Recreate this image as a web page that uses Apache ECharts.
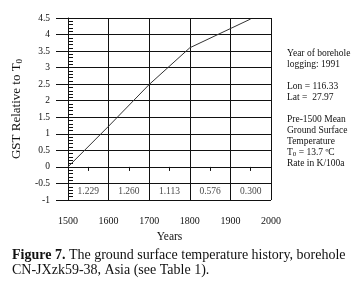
<!DOCTYPE html>
<html>
<head>
<meta charset="utf-8">
<script src="https://cdn.jsdelivr.net/npm/echarts@6/dist/echarts.min.js"></script>
<style>
  html, body { margin: 0; padding: 0; background: #fff; }
  #main { width: 364px; height: 287px; }
</style>
</head>
<body>
<div id="main"></div>
<script>
// ground surface temperature history
var years = [1500, 1600, 1700, 1800, 1900, 1950]
var gst = [0, 1.23, 2.49, 3.6, 4.18, 4.47]

// rate in K/100a for each century
var periodStart = [1500, 1600, 1700, 1800, 1900]
var rates = ['1.229', '1.260', '1.113', '0.576', '0.300']
var rateRow = -0.75

var infoLines = ['Year of borehole', 'logging: 1991', '', 'Lon = 116.33', 'Lat =  27.97', '',
    'Pre-1500 Mean', 'Ground Surface', 'Temperature', 'T{sub|0} = 13.7 ºC', 'Rate in K/100a']

var serif = 'Liberation Serif'
var ink = '#111'

var chart = echarts.init(document.getElementById('main'))

var lineData = years.map(function (y, i) { return [y, gst[i]] })
var rateData = periodStart.map(function (s, i) { return [s + 50, rateRow, rates[i]] })

var info = []
infoLines.forEach(function (t, i) {
    if (!t) return
    info.push({
        type: 'text', left: 287, top: 48 + i * 11,
        style: {
            text: t, fill: ink, font: '9.5px "' + serif + '"',
            rich: { sub: { fontSize: 7, fontFamily: serif, verticalAlign: 'bottom', padding: [4, 0, 0, 0] } }
        }
    })
})

chart.setOption({
    animation: false,
    backgroundColor: '#fff',
    grid: { left: 68, right: 93, top: 18, bottom: 87 },
    xAxis: {
        type: 'value', min: 1500, max: 2000, interval: 100,
        name: 'Years', nameLocation: 'middle', nameGap: 31,
        nameTextStyle: { fontFamily: serif, fontSize: 11.5, color: ink },
        axisLine: { lineStyle: { color: ink, width: 1 } },
        axisTick: { length: 7, lineStyle: { color: ink } },
        minorTick: { show: true, splitNumber: 2, length: 4, lineStyle: { color: ink } },
        axisLabel: { fontFamily: serif, fontSize: 10, color: ink, margin: 16, formatter: function (v) { return String(v) } },
        splitLine: { show: true, lineStyle: { color: ink, width: 1 } }
    },
    yAxis: [{
        type: 'value', min: -1, max: 4.5, interval: 0.5,
        name: 'GST Relative to T{sub|0}', nameLocation: 'middle', nameGap: 34,
        nameTextStyle: {
            fontFamily: serif, fontSize: 13, color: ink,
            rich: { sub: { fontFamily: serif, fontSize: 9, color: ink, verticalAlign: 'bottom', padding: [6, 0, 0, 0] } }
        },
        axisLine: { show: true, lineStyle: { color: ink, width: 1 } },
        axisTick: { show: true, length: 12, lineStyle: { color: ink } },
        axisLabel: { fontFamily: serif, fontSize: 9.5, color: ink, margin: 18 },
        splitLine: { show: true, lineStyle: { color: ink, width: 1 } }
    }, {
        type: 'value', min: -1, max: 4.5, interval: 0.5, position: 'left',
        axisLine: { show: false },
        axisTick: { show: false, inside: true },
        minorTick: { show: true, splitNumber: 5, length: 5, lineStyle: { color: ink } },
        axisLabel: { show: false },
        splitLine: { show: false }
    }],
    series: [{
        type: 'line',
        data: lineData,
        showSymbol: false,
        lineStyle: { color: '#333', width: 1 },
        z: 3
    }, {
        type: 'scatter',
        data: rateData,
        symbolSize: 0,
        label: {
            show: true, position: 'inside',
            formatter: function (p) { return p.value[2] },
            fontFamily: serif, fontSize: 9.5, color: ink
        }
    }],
    graphic: info.concat([{
        type: 'text', left: 12, top: 248,
        style: {
            text: '{b|Figure 7.} The ground surface temperature history, borehole\nCN-JXzk59-38, Asia (see Table 1).',
            fill: ink, font: '14px "' + serif + '"', lineHeight: 15,
            rich: { b: { fontWeight: 'bold', fontFamily: serif, fontSize: 14 } }
        }
    }])
})
</script>
</body>
</html>
